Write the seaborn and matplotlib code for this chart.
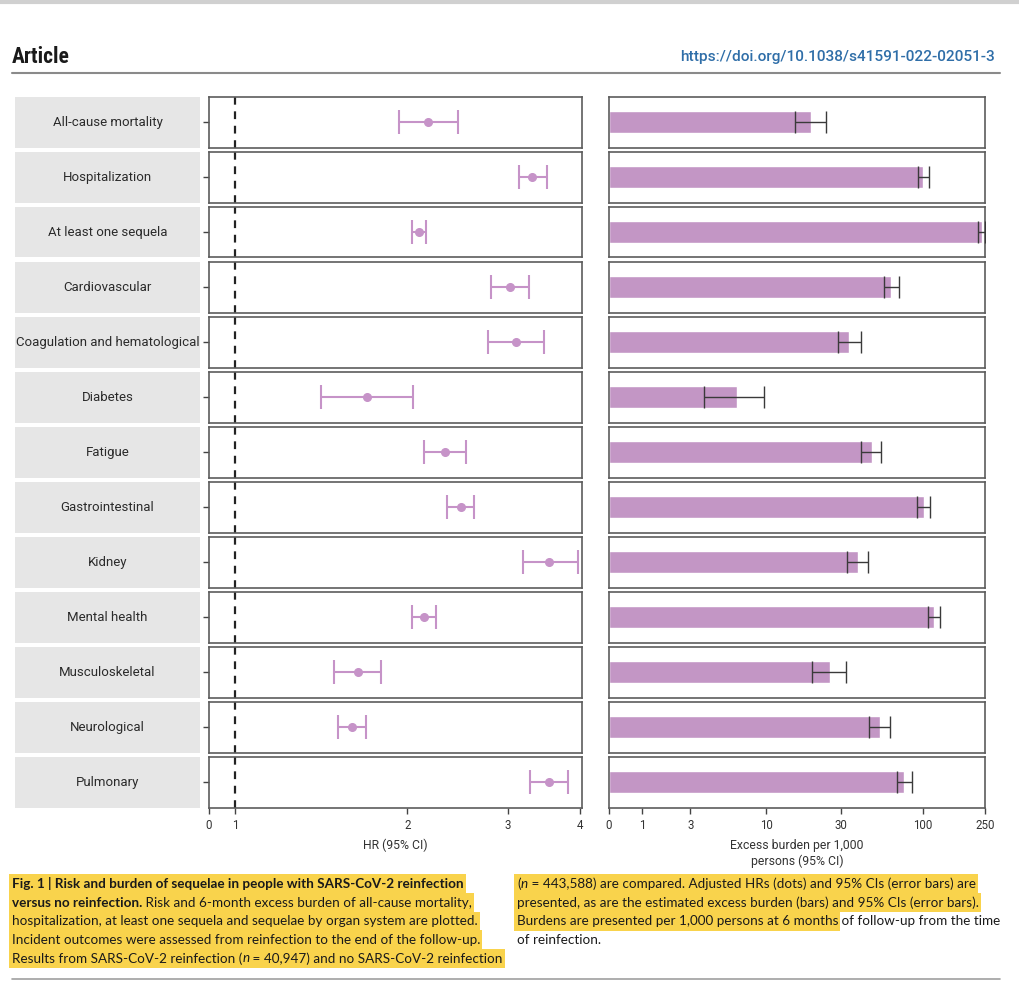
import numpy as np
import pandas as pd
import seaborn as sns
import matplotlib.pyplot as plt
from matplotlib.patches import Rectangle
from matplotlib.lines import Line2D

outcomes = ["All-cause mortality", "Hospitalization", "At least one sequela", "Cardiovascular",
            "Coagulation and hematological", "Diabetes", "Fatigue", "Gastrointestinal", "Kidney",
            "Mental health", "Musculoskeletal", "Neurological", "Pulmonary"]
hr = [2.17, 3.31, 2.10, 3.02, 3.10, 1.70, 2.33, 2.48, 3.54, 2.14, 1.64, 1.60, 3.54]
hr_lo = [1.93, 3.13, 2.04, 2.80, 2.77, 1.41, 2.14, 2.35, 3.18, 2.04, 1.49, 1.51, 3.28]
hr_hi = [2.45, 3.51, 2.16, 3.26, 3.47, 2.05, 2.53, 2.62, 3.97, 2.24, 1.80, 1.69, 3.82]
burden = [19.4, 100.9, 240.0, 63.2, 34.1, 6.4, 47.5, 101.8, 38.5, 117.5, 25.7, 53.2, 76.6]
burden_lo = [15.4, 93.8, 226.8, 56.5, 28.7, 3.8, 40.6, 92.4, 33.1, 107.6, 19.8, 45.8, 69.1]
burden_hi = [24.0, 110.3, 250.0, 71.2, 40.3, 9.7, 54.6, 111.2, 44.9, 128.3, 32.3, 62.0, 85.3]
hr_ticks = [0.9, 1, 2, 3, 4]
hr_ticklabels = ["0", "1", "2", "3", "4"]
burden_ticks = [0, 1, 3, 10, 30, 100, 250]

df = pd.DataFrame({"outcome": outcomes, "hr": hr, "hr_lo": hr_lo, "hr_hi": hr_hi,
                   "burden": burden, "burden_lo": burden_lo, "burden_hi": burden_hi})

sns.set_style("white")
plt.rcParams["font.family"] = ["Roboto", "DejaVu Sans"]

W, H = 1020, 986
fig = plt.figure(figsize=(W / 100, H / 100), dpi=100)

purple = "#C396C5"
dot_col = "#C693C8"
box_col = "#5c5c5c"

def frac(x, y, w, h):
    # pixel box (from top-left) -> figure fraction
    return [x / W, 1 - (y + h) / H, w / W, h / H]

top, pitch, ph = 97, 55, 50.5
n = len(df)
for i, row in df.iterrows():
    y0 = top + i * pitch
    last = i == n - 1

    # label box
    axl = fig.add_axes(frac(15, y0, 185, ph))
    axl.set_facecolor("#E6E6E6")
    for s in axl.spines.values():
        s.set_visible(False)
    axl.set_xticks([]); axl.set_yticks([])
    axl.text(0.5, 0.5, row["outcome"], ha="center", va="center", fontsize=9.5,
             color="#2b2b2b", transform=axl.transAxes)

    # hazard ratio panel
    axh = fig.add_axes(frac(209, y0, 373, ph))
    axh.set_xscale("log")
    axh.axvline(1, color="#222222", ls=(0, (3.5, 3)), lw=1.6, zorder=1)
    axh.errorbar(row["hr"], 0, xerr=[[row["hr"] - row["hr_lo"]], [row["hr_hi"] - row["hr"]]],
                 fmt="o", color=dot_col, ms=5.5, elinewidth=1.5, capsize=8.5, capthick=1.5, zorder=3)
    axh.set_xlim(0.902, 4.04)
    axh.set_ylim(-0.5, 0.5)
    axh.set_yticks([0]); axh.set_yticklabels([])
    axh.tick_params(axis="y", left=True, length=4, width=1, color="#444444")
    axh.minorticks_off()
    axh.set_xticks(hr_ticks)
    if last:
        axh.set_xticklabels(hr_ticklabels)
        axh.tick_params(axis="x", bottom=True, length=4, width=1, color="#444444",
                        labelsize=8.3, labelcolor="#333333", pad=4)
        axh.set_xlabel("HR (95% CI)", fontsize=8.8, color="#333333", labelpad=5)
    else:
        axh.set_xticklabels([])
        axh.tick_params(axis="x", bottom=False)
    for s in axh.spines.values():
        s.set_color(box_col); s.set_linewidth(1.2)

    # excess burden panel
    axb = fig.add_axes(frac(609, y0, 376, ph))
    axb.set_xscale("function", functions=(lambda v: np.arcsinh(v / 2), lambda v: 2 * np.sinh(v)))
    sns.barplot(data=df.iloc[[i]], x="burden", y="outcome", orient="h", color=purple,
                width=0.44, ax=axb, errorbar=None, saturation=1)
    axb.errorbar(row["burden"], 0,
                 xerr=[[row["burden"] - row["burden_lo"]], [row["burden_hi"] - row["burden"]]],
                 fmt="none", ecolor="#3a3a3a", elinewidth=1, capsize=8, capthick=1, zorder=4)
    axb.set_xlim(0, 250)
    axb.set_ylim(0.5, -0.5)
    axb.set_yticks([]); axb.set_ylabel("")
    axb.set_xticks(burden_ticks)
    axb.minorticks_off()
    if last:
        axb.set_xticklabels([str(t) for t in burden_ticks])
        axb.tick_params(axis="x", bottom=True, length=4, width=1, color="#444444",
                        labelsize=8.3, labelcolor="#333333", pad=4)
        axb.set_xlabel("Excess burden per 1,000\npersons (95% CI)", fontsize=8.8,
                       color="#333333", labelpad=5, linespacing=1.25)
    else:
        axb.set_xticklabels([])
        axb.tick_params(axis="x", bottom=False)
        axb.set_xlabel("")
    for s in axb.spines.values():
        s.set_color(box_col); s.set_linewidth(1.2)

# page header
fig.add_artist(Line2D([0, 1], [1 - 2 / H, 1 - 2 / H], color="#d0d0d0", lw=3))
fig.text(12 / W, 1 - 57 / H, "Article", fontsize=15.5, fontweight="bold", color="#1a1a1a",
         ha="left", va="center", family=["Roboto Condensed", "Roboto", "DejaVu Sans"])
fig.text(995 / W, 1 - 57 / H, "https://doi.org/10.1038/s41591-022-02051-3", fontsize=11.1,
         fontweight="medium", color="#2f6ea8", ha="right", va="center")
fig.add_artist(Line2D([12 / W, 1000 / W], [1 - 73 / H, 1 - 73 / H], color="#8a8a8a", lw=1.5))
fig.add_artist(Line2D([12 / W, 1000 / W], [1 - 979 / H, 1 - 979 / H], color="#a0a0a0", lw=1.2))

# caption
cap_font = ["Lato", "DejaVu Sans"]
cap_size = 9.7
hl_col = "#F9D34C"
renderer = fig.canvas.get_renderer()

def draw_line(x, y, pieces):
    start = x
    hl_end = None
    for txt, weight, style, hl in pieces:
        t = fig.text(x / W, 1 - y / H, txt, fontsize=cap_size, fontweight=weight,
                     fontstyle=style, family=cap_font, ha="left", va="center",
                     color="#1a1a1a", zorder=5)
        w = t.get_window_extent(renderer).width
        x += w
        if hl:
            hl_end = x
    if hl_end is not None:
        fig.patches.append(Rectangle(((start - 3) / W, 1 - (y + 9.6) / H),
                                     (hl_end - start + 5) / W, 19.2 / H,
                                     transform=fig.transFigure, facecolor=hl_col,
                                     edgecolor="none", zorder=1))

left_lines = [
    [("Fig. 1 | Risk and burden of sequelae in people with SARS-CoV-2 reinfection", "bold", "normal", True)],
    [("versus no reinfection.", "bold", "normal", True),
     (" Risk and 6-month excess burden of all-cause mortality,", "normal", "normal", True)],
    [("hospitalization, at least one sequela and sequelae by organ system are plotted.", "normal", "normal", True)],
    [("Incident outcomes were assessed from reinfection to the end of the follow-up.", "normal", "normal", True)],
    [("Results from SARS-CoV-2 reinfection (", "normal", "normal", True), ("n", "normal", "italic", True),
     (" = 40,947) and no SARS-CoV-2 reinfection", "normal", "normal", True)],
]
right_lines = [
    [("(", "normal", "normal", True), ("n", "normal", "italic", True),
     (" = 443,588) are compared. Adjusted HRs (dots) and 95% CIs (error bars) are", "normal", "normal", True)],
    [("presented, as are the estimated excess burden (bars) and 95% CIs (error bars).", "normal", "normal", True)],
    [("Burdens are presented per 1,000 persons at 6 months", "normal", "normal", True),
     (" of follow-up from the time", "normal", "normal", False)],
    [("of reinfection.", "normal", "normal", False)],
]
ys = [884, 902.6, 921.2, 939.8, 958.4]
for y, pieces in zip(ys, left_lines):
    draw_line(12, y, pieces)
for y, pieces in zip(ys, right_lines):
    draw_line(517, y, pieces)

fig.savefig("out.png", dpi=100, facecolor="white")
